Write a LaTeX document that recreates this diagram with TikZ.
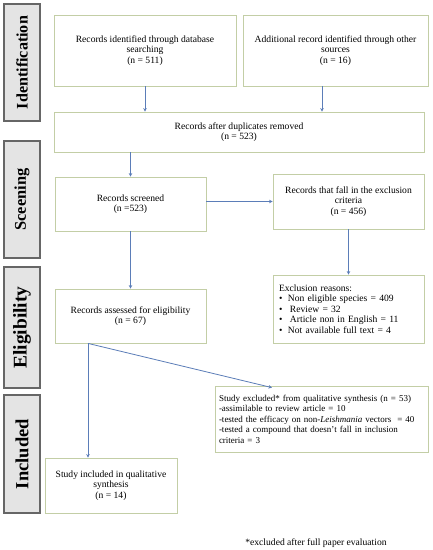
\documentclass[tikz,border=0pt]{standalone}
\usepackage{fontspec}
\setmainfont{Liberation Serif}
\usetikzlibrary{arrows.meta,calc}
\definecolor{boxc}{HTML}{C3CEA6}
\definecolor{arrc}{HTML}{5B7DB8}
\definecolor{sidefill}{HTML}{E4E4E4}
\definecolor{sidedraw}{HTML}{666666}
\begin{document}
\begin{tikzpicture}[x=1pt,y=-1pt,
  box/.style={draw=boxc, line width=0.8pt, inner sep=0pt, align=center,
    font=\fontsize{9.6}{10.6}\selectfont},
  lbox/.style={box, align=left, inner xsep=6pt},
  side/.style={draw=sidedraw, fill=sidefill, line width=1.1pt, rotate=90,
    minimum height=36pt, inner sep=0pt, font=\fontsize{16}{16}\selectfont\bfseries},
  arr/.style={draw=arrc, line width=0.8pt, -{Stealth[length=3.5pt,width=3.5pt]}},
  note/.style={font=\fontsize{9.6}{10.6}\selectfont}]
\useasboundingbox[fill=white] (0,0) rectangle (432,550);
% side labels
\node[side, minimum width=117pt] (sideI) at (22,62.5) {\resizebox{93pt}{!}{Identification}};
\node[side, minimum width=117pt] (sideS) at (22,199.5) {\resizebox{62pt}{!}{Sceening}};
\node[side, minimum width=121pt] (sideE) at (22,327.5) {\resizebox{82pt}{!}{Eligibility}};
\node[side, minimum width=118pt] (sideC) at (22,454) {\resizebox{70pt}{!}{Included}};
% boxes
\node[box, minimum width=182pt, minimum height=71pt] (b1) at (145,50.5)
  {Records identified through database\\searching\\(n = 511)};
\node[box, minimum width=185pt, minimum height=71pt] (b2) at (335.5,50.5)
  {Additional record identified through other\\sources\\(n = 16)};
\node[box, minimum width=370pt, minimum height=40pt] (b3) at (239,132)
  {Records after duplicates removed\\(n = 523)};
\node[box, minimum width=151pt, minimum height=54pt] (b4) at (130.5,204)
  {Records screened\\(n =523)};
\node[box, minimum width=151pt, minimum height=55pt] (b5) at (348.5,201.5)
  {Records that fall in the exclusion\\criteria\\(n = 456)};
\node[lbox, text width=139pt, minimum height=68pt] (b6) at (348.5,309)
  {Exclusion reasons:\\
   \makebox[9pt][l]{\textbullet}Non eligible species = 409\\
   \makebox[11pt][l]{\textbullet}Review = 32\\
   \makebox[11pt][l]{\textbullet}Article non in English = 11\\
   \makebox[9pt][l]{\textbullet}Not available full text = 4};
\node[box, minimum width=151pt, minimum height=54pt] (b7) at (130.5,316)
  {Records assessed for eligibility\\(n = 67)};
\node[box, minimum width=132pt, minimum height=55pt] (b8) at (111,485.5)
  {Study included in qualitative\\synthesis\\(n = 14)};
\node[lbox, inner xsep=4pt, text width=205pt, minimum height=66pt,
  font=\fontsize{9.0}{10.5}\selectfont] (b9) at (321.5,419)
  {Study excluded* from qualitative synthesis (n = 53)\\
   -assimilable to review article = 10\\
   -tested the efficacy on non-\textit{Leishmania} vectors\ \ = 40\\
   -tested a compound that doesn’t fall in inclusion\\
   criteria = 3};
\node[note] (fn) at (316,543) {*excluded after full paper evaluation};
% connectors
\draw[arr] (b1.south) -- (b1.south |- b3.north);
\draw[arr] ([xshift=-13.5pt]b2.south) -- ([xshift=-13.5pt]b2.south |- b3.north);
\draw[arr] (b4.north |- b3.south) -- (b4.north);
\draw[arr] (b4.east |- b5.west) -- (b5.west);
\draw[arr] (b5.south) -- (b6.north);
\draw[arr] (b4.south) -- (b7.north);
\coordinate (split) at ([xshift=-42.5pt]b7.south);
\draw[arr] (split) -- (split |- b8.north);
\draw[arr] (split) -- ([xshift=-49.5pt,yshift=-2pt]b9.north);
\end{tikzpicture}
\end{document}
